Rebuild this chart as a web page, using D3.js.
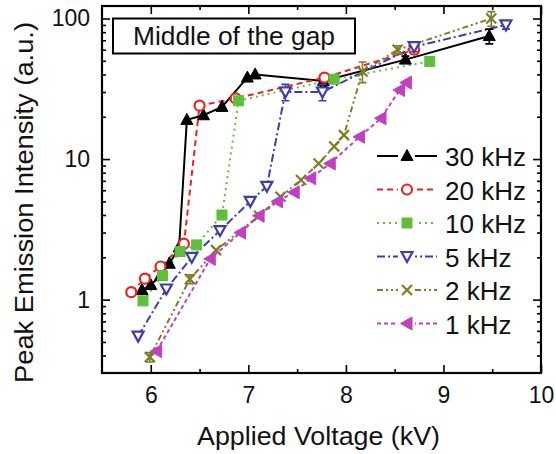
<!DOCTYPE html>
<html><head><meta charset="utf-8">
<script src="https://cdn.jsdelivr.net/npm/d3@7"></script>
<style>html,body{margin:0;padding:0;background:#fff;}svg{display:block;font-family:"Liberation Sans",Arial,sans-serif;}</style>
</head><body><svg id="c" width="556" height="454"></svg>
<script>
// ---- data ----
const xTicks = [6, 7, 8, 9, 10];
const yTicks = [1, 10, 100];
const seriesNames = ["30 kHz", "20 kHz", "10 kHz", "5 kHz", "2 kHz", "1 kHz"];

const x30 = [5.91, 6.00, 6.10, 6.19, 6.29, 6.37, 6.54, 6.73, 6.99, 7.07, 7.77, 8.61, 9.47];
const y30 = [1.17, 1.27, 1.48, 1.8, 2.35, 19, 20.5, 23.5, 38, 40, 36, 51, 75];
const e30 = [0, 0, 0, 0, 0, 0, 0, 0, 0, 0, 3, 3, 9];

const x20 = [5.80, 5.94, 6.10, 6.34, 6.50, 6.87, 7.78, 8.70];
const y20 = [1.13, 1.41, 1.72, 2.5, 24, 27, 38, 60];
const e20 = [0, 0, 0, 0, 0, 0, 0, 4];

const x10 = [5.92, 6.12, 6.30, 6.47, 6.73, 6.90, 7.88, 8.86];
const y10 = [0.98, 1.48, 2.2, 2.45, 4.0, 26, 37, 49.5];
const e10 = [0, 0, 0, 0, 0, 0, 0, 0];

const x5 = [5.87, 6.16, 6.42, 6.71, 7.02, 7.19, 7.38, 7.76, 8.70, 9.64];
const y5 = [0.55, 1.19, 2.0, 3.1, 5.0, 6.4, 30, 30, 63, 90];
const e5 = [0, 0, 0, 0, 0, 0, 4, 4, 5, 6];

const x2 = [5.99, 6.40, 6.67, 7.11, 7.33, 7.54, 7.72, 7.88, 7.98, 8.17, 8.53, 9.49];
const y2 = [0.39, 1.4, 2.25, 3.95, 5.4, 7.1, 9.3, 12.3, 14.8, 42, 60, 100];
const e2 = [0.03, 0.1, 0, 0, 0, 0, 0, 0, 0, 7, 4, 12];

const x1 = [6.06, 6.61, 6.92, 7.11, 7.30, 7.47, 7.64, 7.84, 8.14, 8.36, 8.55, 8.62];
const y1 = [0.43, 1.95, 3.0, 3.95, 5.0, 5.8, 7.3, 9.3, 14.4, 19.5, 31, 35];
const e1 = [0, 0, 0, 0, 0, 0, 0, 0, 0, 0, 0, 0];

// ---- styles ----
const styles = [
  {color:"#000000", dash:null,           marker:"triUp",   fill:true},
  {color:"#ee2222", dash:"6,4",          marker:"circle",  fill:false},
  {color:"#5fbf3a", dash:"2,4",          marker:"square",  fill:true},
  {color:"#3d3db0", dash:"8,3,2,3",      marker:"triDown", fill:false},
  {color:"#7d7d28", dash:"6,3,2,3,2,3",  marker:"cross",   fill:false},
  {color:"#c040c0", dash:"4,3",          marker:"triLeft", fill:true}
];
const series = [
  [x30,y30,e30],[x20,y20,e20],[x10,y10,e10],[x5,y5,e5],[x2,y2,e2],[x1,y1,e1]
].map((s,i)=>({name:seriesNames[i], pts:s[0].map((xv,j)=>({x:xv,y:s[1][j],e:s[2][j]})), st:styles[i]}));

const svg = d3.select("#c");
const PL=102, PR=541, PT=6, PB=373;
const x = d3.scaleLinear().domain([5.5,10]).range([PL,PR]);
const y = d3.scaleLog().domain([Math.pow(10,-0.522), Math.pow(10,2.089)]).range([PB,PT]);

svg.append("defs").append("clipPath").attr("id","pc")
  .append("rect").attr("x",PL).attr("y",PT).attr("width",PR-PL).attr("height",PB-PT);

// minor ticks
const xMinor = d3.range(6.5, 10, 1);
const yMinor = [];
[0.1,1,10].forEach(d=>{for(let k=2;k<=9;k++){const v=d*k; if(v>=y.domain()[0]&&v<=y.domain()[1]) yMinor.push(v);}});

// axes
svg.append("g").attr("transform",`translate(0,${PB})`)
  .call(d3.axisBottom(x).tickValues(xTicks).tickSizeInner(-8).tickSizeOuter(0).tickPadding(14).tickFormat(d3.format("d")));
svg.append("g").attr("transform",`translate(0,${PT})`)
  .call(d3.axisTop(x).tickValues(xTicks).tickSizeInner(-8).tickSizeOuter(0).tickFormat(""));
svg.append("g").attr("transform",`translate(${PL},0)`)
  .call(d3.axisLeft(y).tickValues(yTicks).tickSizeInner(-8).tickSizeOuter(0).tickPadding(12).tickFormat(d3.format("d")));
svg.append("g").attr("transform",`translate(${PR},0)`)
  .call(d3.axisRight(y).tickValues(yTicks).tickSizeInner(-8).tickSizeOuter(0).tickFormat(""));
svg.append("g").attr("transform",`translate(0,${PB})`).call(d3.axisBottom(x).tickValues(xMinor).tickSizeInner(-4).tickSizeOuter(0).tickFormat(""));
svg.append("g").attr("transform",`translate(0,${PT})`).call(d3.axisTop(x).tickValues(xMinor).tickSizeInner(-4).tickSizeOuter(0).tickFormat(""));
svg.append("g").attr("transform",`translate(${PL},0)`).call(d3.axisLeft(y).tickValues(yMinor).tickSizeInner(-4).tickSizeOuter(0).tickFormat(""));
svg.append("g").attr("transform",`translate(${PR},0)`).call(d3.axisRight(y).tickValues(yMinor).tickSizeInner(-4).tickSizeOuter(0).tickFormat(""));
svg.selectAll(".domain").remove();
svg.selectAll(".tick line").attr("stroke","#000").attr("stroke-width",1.6);
svg.selectAll(".tick text").attr("font-size",23).attr("fill","#111").attr("font-family",'"Liberation Sans",Arial,sans-serif');

// frame
svg.append("rect").attr("x",PL).attr("y",PT).attr("width",PR-PL).attr("height",PB-PT)
  .attr("fill","none").attr("stroke","#000").attr("stroke-width",2.2);

// title box
svg.append("rect").attr("x",113).attr("y",18.5).attr("width",242).attr("height",35)
  .attr("fill","#fff").attr("stroke","#000").attr("stroke-width",2);
svg.append("text").attr("x",133).attr("y",45).attr("font-size",26).attr("fill","#111")
  .attr("textLength",202).attr("lengthAdjust","spacingAndGlyphs").text("Middle of the gap");

// axis titles
svg.append("text").attr("x",197).attr("y",445).attr("font-size",26).attr("fill","#111")
  .attr("textLength",243).attr("lengthAdjust","spacingAndGlyphs").text("Applied Voltage (kV)");
svg.append("text").attr("transform","translate(33,383) rotate(-90)").attr("font-size",26).attr("fill","#111")
  .attr("textLength",361).attr("lengthAdjust","spacingAndGlyphs").text("Peak Emission Intensity (a.u.)");

// marker drawer
function drawMarker(g, st, cx, cy) {
  const sw = 2.2;
  let el;
  switch(st.marker){
    case "triUp": el=g.append("path").attr("d",`M${cx},${cy-6.5}L${cx+6},${cy+4.5}L${cx-6},${cy+4.5}Z`); break;
    case "triDown": el=g.append("path").attr("d",`M${cx},${cy+5.5}L${cx+5.5},${cy-4.5}L${cx-5.5},${cy-4.5}Z`); break;
    case "triLeft": el=g.append("path").attr("d",`M${cx-6.5},${cy}L${cx+5},${cy-6.5}L${cx+5},${cy+6.5}Z`); break;
    case "circle": el=g.append("circle").attr("cx",cx).attr("cy",cy).attr("r",5); break;
    case "square": el=g.append("rect").attr("x",cx-5).attr("y",cy-5).attr("width",10).attr("height",10); break;
    case "cross": el=g.append("path").attr("d",`M${cx-5},${cy-5}L${cx+5},${cy+5}M${cx+5},${cy-5}L${cx-5},${cy+5}`); break;
  }
  if(st.fill) el.attr("fill",st.color).attr("stroke",st.color).attr("stroke-width",1);
  else el.attr("fill", st.marker==="cross"?"none":"#fff").attr("stroke",st.color).attr("stroke-width",sw);
}

const plot = svg.append("g").attr("clip-path","url(#pc)");
const line = d3.line().x(d=>x(d.x)).y(d=>y(d.y));
series.forEach(s=>{
  plot.append("path").datum(s.pts).attr("d",line).attr("fill","none")
    .attr("stroke",s.st.color).attr("stroke-width",2)
    .attr("stroke-dasharray",s.st.dash);
});
series.forEach(s=>{
  const g = plot.append("g");
  s.pts.forEach(p=>{
    if(p.e>0){
      const ya=y(p.y+p.e), yb=y(Math.max(p.y-p.e,1e-3)), cx=x(p.x);
      g.append("path").attr("d",`M${cx},${ya}V${yb}M${cx-4},${ya}H${cx+4}M${cx-4},${yb}H${cx+4}`)
        .attr("stroke",s.st.color).attr("stroke-width",1.6).attr("fill","none");
    }
    drawMarker(g, s.st, x(p.x), y(p.y));
  });
});

// legend
const lg = svg.append("g");
series.forEach((s,i)=>{
  const ly = 156 + i*33.5;
  lg.append("line").attr("x1",377).attr("x2",437).attr("y1",ly).attr("y2",ly)
    .attr("stroke",s.st.color).attr("stroke-width",2).attr("stroke-dasharray",s.st.dash);
  const mg = lg.append("g");
  mg.append("rect").attr("x",398).attr("y",ly-8).attr("width",17).attr("height",16).attr("fill","#fff");
  drawMarker(mg, s.st, 407, ly);
  lg.append("text").attr("x",445).attr("y",ly+10).attr("font-size",26).attr("fill","#111").text(s.name);
});
</script></body></html>
